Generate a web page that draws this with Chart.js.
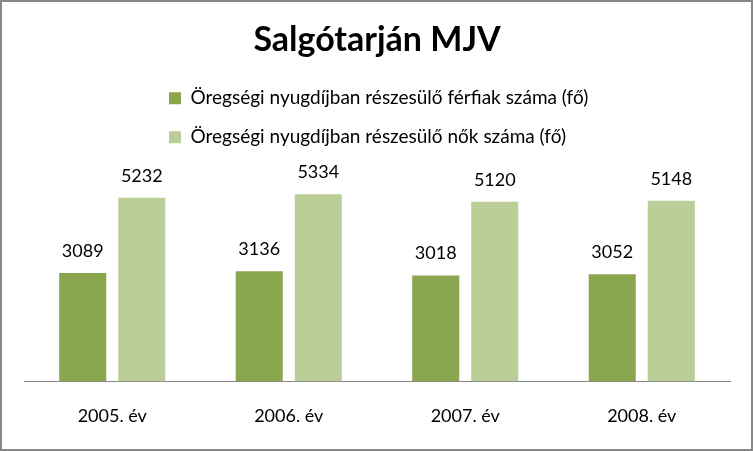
<!DOCTYPE html>
<html>
<head>
<meta charset="utf-8">
<script src="https://cdn.jsdelivr.net/npm/chart.js@4/dist/chart.umd.min.js"></script>
<style>
    html, body { margin: 0; padding: 0; background: #fff; }
    #wrap {
        width: 753px; height: 451px; box-sizing: border-box;
        border: 2px solid #878787; background: #fff;
    }
</style>
</head>
<body>
<div id="wrap"><canvas id="chart" width="749" height="447"></canvas></div>
<script>
// Data
const years = ['2005. év', '2006. év', '2007. év', '2008. év'];
const menValues = [3089, 3136, 3018, 3052];
const womenValues = [5232, 5334, 5120, 5148];
const seriesNames = [
    'Öregségi nyugdíjban részesülő férfiak száma (fő)',
    'Öregségi nyugdíjban részesülő nők száma (fő)'
];

const darkGreen = '#8aa64f';
const lightGreen = '#bbce98';
const fontFamily = "Lato, 'Open Sans', sans-serif";

// Value labels above each bar
const valueLabels = {
    id: 'valueLabels',
    afterDatasetsDraw(chart) {
        const ctx = chart.ctx;
        ctx.save();
        ctx.font = '18px ' + fontFamily;
        ctx.fillStyle = '#000';
        ctx.textAlign = 'center';
        ctx.textBaseline = 'middle';
        chart.data.datasets.forEach((ds, i) => {
            chart.getDatasetMeta(i).data.forEach((bar, j) => {
                ctx.fillText(ds.data[j], bar.x, bar.y - 22);
            });
        });
        ctx.restore();
    }
};

// Both legend rows start at the same x, like the original
const legendShift = {
    id: 'legendShift',
    afterLayout(chart) {
        const lg = chart.legend;
        lg.left = 167 - lg.options.labels.padding;
    }
};

new Chart(document.getElementById('chart'), {
    type: 'bar',
    data: {
        labels: years,
        datasets: [{
            label: seriesNames[0],
            data: menValues,
            backgroundColor: darkGreen,
            categoryPercentage: 0.669,
            barPercentage: 0.797
        }, {
            label: seriesNames[1],
            data: womenValues,
            backgroundColor: lightGreen,
            categoryPercentage: 0.669,
            barPercentage: 0.797
        }]
    },
    options: {
        responsive: false,
        animation: false,
        layout: {
            padding: { left: 22, right: 21, top: 0, bottom: 6 }
        },
        plugins: {
            title: {
                display: true,
                text: 'Salgótarján MJV',
                color: '#000',
                font: { family: fontFamily, size: 34, weight: 'bold' },
                padding: { top: 18, bottom: 8 }
            },
            legend: {
                display: true,
                position: 'top',
                align: 'start',
                labels: {
                    color: '#000',
                    font: { family: fontFamily, size: 19 },
                    boxWidth: 12,
                    boxHeight: 12,
                    padding: 20
                }
            },
            tooltip: { enabled: false }
        },
        scales: {
            x: {
                grid: { display: false },
                border: { display: true, color: '#868686', width: 1 },
                ticks: {
                    color: '#000',
                    font: { family: fontFamily, size: 18 },
                    padding: 16
                }
            },
            y: {
                display: false,
                min: 0,
                max: 6400
            }
        }
    },
    plugins: [valueLabels, legendShift]
});
</script>
</body>
</html>
